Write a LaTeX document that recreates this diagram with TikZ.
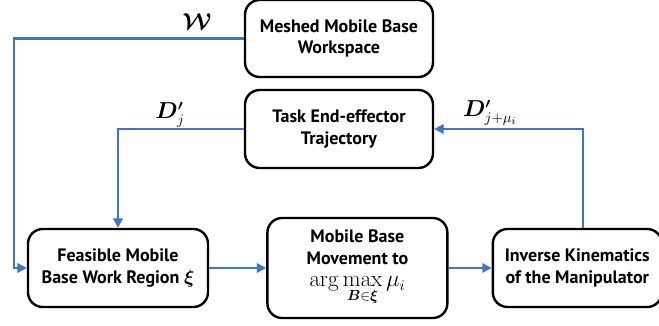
\documentclass[tikz,border=0pt]{standalone}
\usepackage{bm}
\usepackage{amsmath}
\usepackage[no-math]{fontspec}
\setmainfont{PT Sans}
\usepackage{tikz}
\usepackage{xcolor}
\usetikzlibrary{positioning}
\usetikzlibrary{arrows.meta}

\definecolor{flowblue}{HTML}{4472C4}

\tikzset{
  block/.style={draw, line width=1.8pt, rounded corners=11pt, align=center,
    font=\bfseries\fontsize{13.5}{16}\selectfont, inner sep=2pt},
  flow/.style={draw=flowblue, line width=1.6pt,
    -{Triangle[length=7pt,width=7pt]}},
  lbl/.style={font=\fontsize{16}{18}\selectfont}
}

\begin{document}
\begin{tikzpicture}[x=0.75pt, y=-0.75pt]

\useasboundingbox (0,0) rectangle (659,325);

% top row: workspace and trajectory inputs
\node (mesh) [block, minimum width=141pt, minimum height=57.75pt] at (339,38.5)
  {Meshed Mobile Base\\Workspace};
\node (traj) [block, minimum width=141pt, minimum height=58.5pt] at (339,129)
  {Task End-effector\\Trajectory};

% bottom row
\node (region) [block, minimum width=135pt, minimum height=58.5pt] at (118,268)
  {Feasible Mobile\\Base Work Region $\bm{\xi}$};
\node (move) [block, minimum width=135pt, minimum height=75pt, right=42.75pt of region]
  {Mobile Base\\Movement to\\[1pt]
   {\mdseries\fontsize{16}{16}\selectfont $\displaystyle\arg\max_{\bm{B}\in\bm{\xi}}\mu_i$}};
\node (ik) [block, minimum width=126.75pt, minimum height=58.5pt, right=32.25pt of move]
  {Inverse Kinematics\\of the Manipulator};

\coordinate (wcorner) at (14,38.5);

% connectors
\draw[flow] (mesh.west) -- (wcorner) |- (region.west);
\draw[flow] (traj.west) -| (region.north);
\draw[flow] (region) -- (move);
\draw[flow] (move) -- (ik);
\draw[flow] ([xshift=4pt]ik.north) |- (traj.east);

% labels
\node (wlbl) [lbl] at (197,22) {$\bm{\mathcal{W}}$};
\node (djlbl) [lbl] at (170,115) {$\bm{D'}_{j}$};
\node (djmlbl) [lbl] at (490,113) {$\bm{D'}_{j+\mu_i}$};

\end{tikzpicture}
\end{document}
